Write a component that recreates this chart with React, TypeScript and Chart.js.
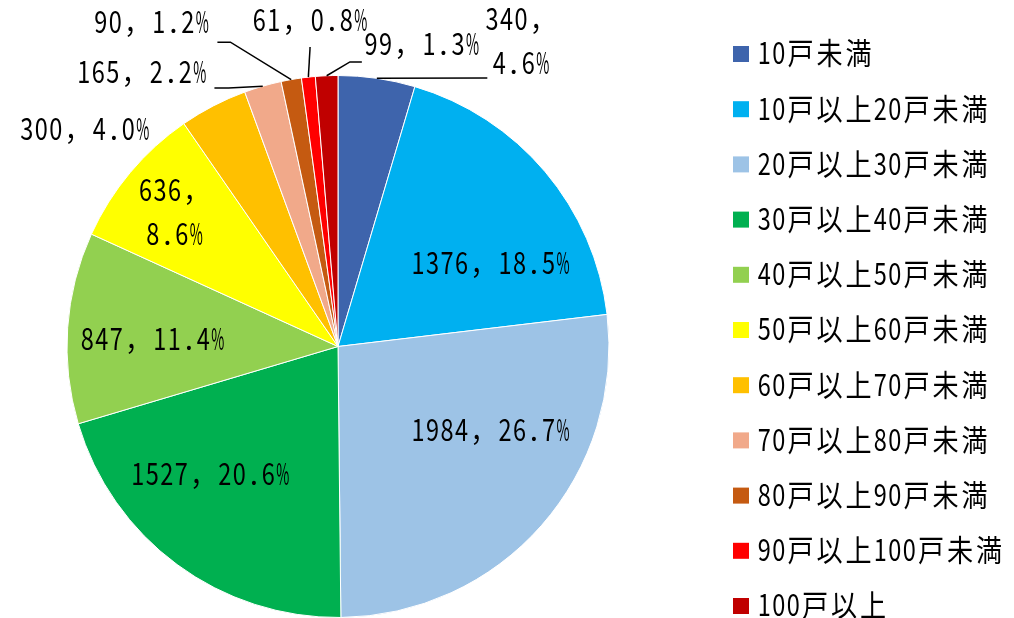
import React, { useEffect, useRef } from "react";
import { Chart, registerables } from "chart.js";

Chart.register(...registerables);

// ---- data ----
const categories = [
  "10戸未満",
  "10戸以上20戸未満",
  "20戸以上30戸未満",
  "30戸以上40戸未満",
  "40戸以上50戸未満",
  "50戸以上60戸未満",
  "60戸以上70戸未満",
  "70戸以上80戸未満",
  "80戸以上90戸未満",
  "90戸以上100戸未満",
  "100戸以上",
];
const values = [340, 1376, 1984, 1527, 847, 636, 300, 165, 90, 61, 99];
const colors = [
  "#3E64AC",
  "#00B0F0",
  "#9DC3E6",
  "#00B050",
  "#92D050",
  "#FFFF00",
  "#FFC000",
  "#F1A98A",
  "#C55A11",
  "#FF0000",
  "#C00000",
];

// ---- label layout (offsets from pie centre, in units of radius) ----
type Pt = [number, number];
const labelPos: Pt[] = [
  [0.675, -1.127],
  [0.5625, -0.311],
  [0.5625, 0.307],
  [-0.471, 0.469],
  [-0.684, -0.031],
  [-0.603, -0.498],
  [-0.934, -0.803],
  [-0.724, -1.013],
  [-0.688, -1.2],
  [-0.103, -1.208],
  [0.309, -1.119],
];
const labelWrap = [true, false, false, false, false, true, false, false, false, false, false];
const leaders: (Pt[] | null)[] = [
  [[0.551, -0.991]],
  null,
  null,
  null,
  null,
  null,
  null,
  [[-0.404, -0.954], [-0.456, -0.954]],
  [[-0.397, -1.123], [-0.445, -1.123]],
  [[-0.103, -1.105]],
  [[0.044, -1.05], [0.088, -1.05]],
];

const EM = 29;
const FONT = '30px "Noto Sans CJK JP", "Noto Sans CJK SC", sans-serif';

const isFull = (ch: string) => ch.charCodeAt(0) > 0xff;
const monoWidth = (t: string, em: number) =>
  Array.from(t).reduce((s, ch) => s + (isFull(ch) ? em : em / 2), 0);

function drawMono(
  ctx: CanvasRenderingContext2D,
  text: string,
  x: number,
  cy: number,
  em: number,
  align: "left" | "center"
) {
  const w = monoWidth(text, em);
  let px = align === "center" ? x - w / 2 : x;
  ctx.textAlign = "center";
  ctx.textBaseline = "middle";
  for (const ch of Array.from(text)) {
    const cell = isFull(ch) ? em : em / 2;
    if (ch !== " ") {
      const adv = ctx.measureText(ch).width || 1;
      const s = Math.min(1, (cell * 0.9) / adv);
      ctx.save();
      ctx.translate(px + cell / 2, cy);
      ctx.scale(s, 1);
      ctx.fillText(ch, 0, 0);
      ctx.restore();
    }
    px += cell;
  }
}

const labelsPlugin = {
  id: "pieLabels",
  afterDatasetsDraw(chart: any) {
    const ctx: CanvasRenderingContext2D = chart.ctx;
    const meta = chart.getDatasetMeta(0);
    const arcs = meta.data;
    if (!arcs.length) return;
    const cx = arcs[0].x;
    const cy = arcs[0].y;
    const R = arcs[0].outerRadius;
    const total = values.reduce((a, b) => a + b, 0);
    ctx.save();
    ctx.font = FONT;
    ctx.fillStyle = "#000";
    // leader lines
    ctx.strokeStyle = "#000";
    ctx.lineWidth = 1.5;
    arcs.forEach((arc: any, i: number) => {
      const pts = leaders[i];
      if (!pts) return;
      const mid = (arc.startAngle + arc.endAngle) / 2;
      ctx.beginPath();
      ctx.moveTo(cx + R * Math.cos(mid), cy + R * Math.sin(mid));
      pts.forEach(([dx, dy]) => ctx.lineTo(cx + dx * R, cy + dy * R));
      ctx.stroke();
    });
    // labels
    values.forEach((v, i) => {
      const pct = ((v / total) * 100).toFixed(1) + "%";
      const [dx, dy] = labelPos[i];
      const x = cx + dx * R;
      const y = cy + dy * R;
      if (labelWrap[i]) {
        drawMono(ctx, `${v}，`, x, y - 22, EM, "center");
        drawMono(ctx, pct, x, y + 22, EM, "center");
      } else {
        drawMono(ctx, `${v}，${pct}`, x, y, EM, "center");
      }
    });
    ctx.restore();
  },
};

const legendPlugin = {
  id: "customLegend",
  afterDraw(chart: any) {
    const ctx: CanvasRenderingContext2D = chart.ctx;
    ctx.save();
    ctx.font = FONT;
    categories.forEach((c, i) => {
      const yc = 54 + i * 55.2;
      ctx.fillStyle = colors[i];
      ctx.fillRect(733, yc - 8, 16, 16);
      ctx.fillStyle = "#000";
      drawMono(ctx, c, 757, yc - 1, EM, "left");
    });
    ctx.restore();
  },
};

export default function App() {
  const ref = useRef<HTMLCanvasElement | null>(null);
  useEffect(() => {
    if (!ref.current) return;
    const chart = new Chart(ref.current, {
      type: "pie",
      data: {
        labels: categories,
        datasets: [
          {
            data: values,
            backgroundColor: colors,
            borderColor: "#FFFFFF",
            borderWidth: 1,
          },
        ],
      },
      options: {
        responsive: false,
        animation: false,
        layout: { padding: { left: 66, right: 404, top: 75, bottom: 0 } },
        plugins: {
          legend: { display: false },
          tooltip: { enabled: false },
        },
      },
      plugins: [labelsPlugin, legendPlugin],
    });
    return () => chart.destroy();
  }, []);
  return (
    <div style={{ position: "fixed", left: 0, top: 0, width: 1014, height: 618, background: "#fff" }}>
      <canvas ref={ref} width={1014} height={618} style={{ display: "block" }} />
    </div>
  );
}
